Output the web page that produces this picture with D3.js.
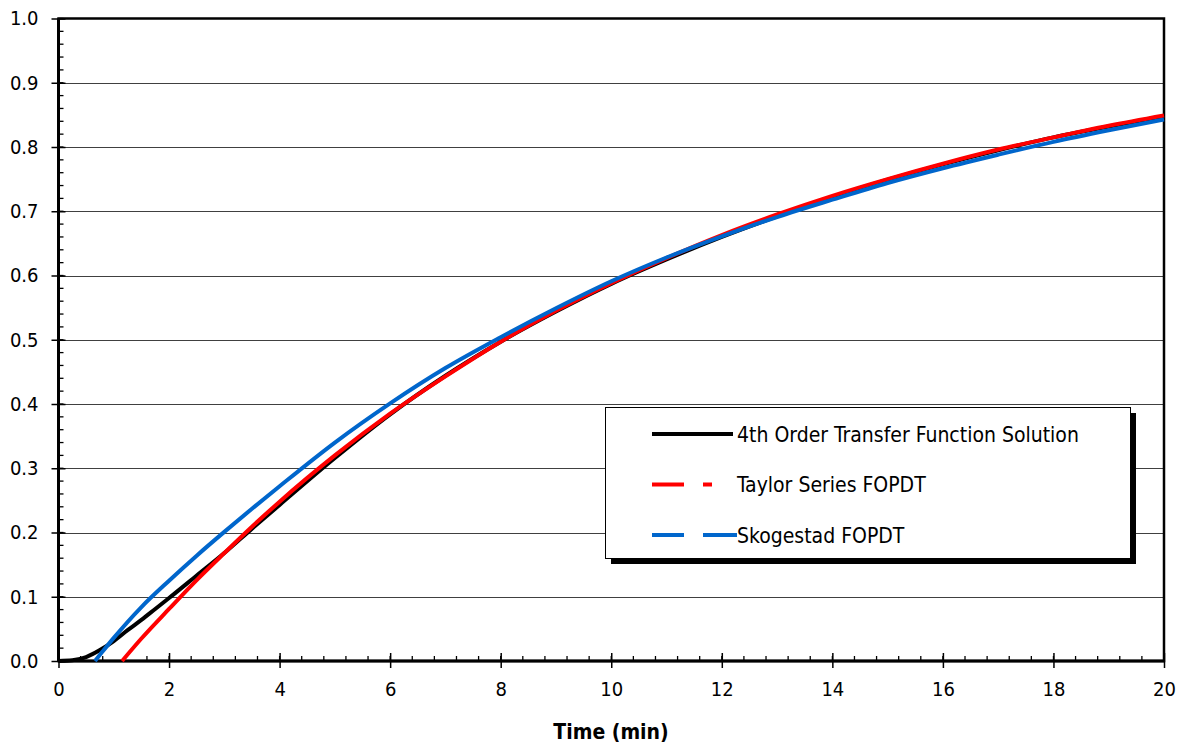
<!DOCTYPE html>
<html>
<head>
<meta charset="utf-8">
<script src="https://cdn.jsdelivr.net/npm/d3@7"></script>
<style>
  body { margin: 0; background: #fff; }
  svg { display: block; font-family: "DejaVu Sans Condensed", "DejaVu Sans", sans-serif; }
</style>
</head>
<body>
<svg id="chart" width="1182" height="744"></svg>
<script>
// values
var timeBlack = [0, 0.25, 0.5, 0.75, 1, 1.25, 1.5, 1.75, 2, 2.5, 3, 3.5, 4, 5, 6, 7, 8, 9, 10, 11, 12, 13, 14, 15, 16, 17, 18, 19, 20]
var orderFour = [0, 0.001, 0.006, 0.017, 0.031, 0.048, 0.064, 0.081, 0.098, 0.133, 0.168, 0.206, 0.243, 0.316, 0.384, 0.444, 0.497, 0.544, 0.587, 0.625, 0.660, 0.692, 0.722, 0.749, 0.773, 0.795, 0.815, 0.832, 0.848]

var timeTaylor = [1.15, 1.5, 2, 2.5, 3, 3.5, 4, 5, 6, 7, 8, 9, 10, 11, 12, 13, 14, 15, 16, 17, 18, 19, 20]
var taylor = [0, 0.035, 0.081, 0.126, 0.168, 0.209, 0.248, 0.320, 0.385, 0.443, 0.497, 0.545, 0.588, 0.627, 0.663, 0.695, 0.724, 0.750, 0.774, 0.796, 0.815, 0.833, 0.849]

var timeSkog = [0.66, 0.8, 1, 1.5, 2, 2.5, 3, 3.5, 4, 5, 6, 7, 8, 9, 10, 11, 12, 13, 14, 15, 16, 17, 18, 19, 20]
var skogestad = [0, 0.015, 0.036, 0.084, 0.125, 0.164, 0.201, 0.237, 0.272, 0.340, 0.401, 0.456, 0.504, 0.549, 0.591, 0.628, 0.661, 0.691, 0.718, 0.744, 0.767, 0.788, 0.808, 0.826, 0.843]

var seriesNames = ["4th Order Transfer Function Solution", "Taylor Series FOPDT", "Skogestad FOPDT"]
var seriesColors = ["#000000", "#ff0000", "#0066cc"]
var xTicks = [0, 2, 4, 6, 8, 10, 12, 14, 16, 18, 20]
var yTicks = [0, 0.1, 0.2, 0.3, 0.4, 0.5, 0.6, 0.7, 0.8, 0.9, 1.0]

var plotL = 58.5, plotT = 18.5, plotR = 1164, plotB = 661;

var svg = d3.select("#chart");

var x = d3.scaleLinear().domain([0, 20]).range([plotL, plotR]);
var y = d3.scaleLinear().domain([0, 1]).range([plotB, plotT]);

// grid
svg.append("g")
    .selectAll("line")
    .data(yTicks.slice(1, -1))
    .enter().append("line")
    .attr("x1", plotL).attr("x2", plotR)
    .attr("y1", d => Math.round(y(d)) + 0.5)
    .attr("y2", d => Math.round(y(d)) + 0.5)
    .attr("stroke", "#404040")
    .attr("stroke-width", 1);

// minor ticks
var minorY = d3.range(0, 1.0001, 0.02);
svg.append("g")
    .selectAll("line")
    .data(minorY)
    .enter().append("line")
    .attr("x1", plotL).attr("x2", plotL + 5)
    .attr("y1", d => y(d)).attr("y2", d => y(d))
    .attr("stroke", "#000").attr("stroke-width", 1.3);

var minorX = d3.range(0, 20.001, 0.4);
svg.append("g")
    .selectAll("line")
    .data(minorX)
    .enter().append("line")
    .attr("x1", d => x(d)).attr("x2", d => x(d))
    .attr("y1", plotB).attr("y2", plotB - 5)
    .attr("stroke", "#000").attr("stroke-width", 1.3);

// axes with d3
var yAxis = d3.axisLeft(y)
    .tickValues(yTicks)
    .tickFormat(d3.format(".1f"))
    .tickSizeInner(7)
    .tickSizeOuter(0)
    .tickPadding(13);
var gy = svg.append("g")
    .attr("transform", "translate(" + plotL + ",0)")
    .call(yAxis);
gy.select(".domain").remove();
gy.selectAll(".tick line").attr("x2", 7).attr("x1", -7).attr("stroke-width", 1.5);
gy.selectAll(".tick text")
    .attr("font-size", 20)
    .attr("font-family", "DejaVu Sans Condensed, DejaVu Sans, sans-serif")
    .attr("fill", "#000");

var xAxis = d3.axisBottom(x)
    .tickValues(xTicks)
    .tickFormat(d3.format("d"))
    .tickSizeInner(7)
    .tickSizeOuter(0)
    .tickPadding(14);
var gx = svg.append("g")
    .attr("transform", "translate(0," + plotB + ")")
    .call(xAxis);
gx.select(".domain").remove();
gx.selectAll(".tick line").attr("y1", -8).attr("y2", 7).attr("stroke-width", 1.5);
gx.selectAll(".tick text")
    .attr("font-size", 20)
    .attr("font-family", "DejaVu Sans Condensed, DejaVu Sans, sans-serif")
    .attr("fill", "#000");

// frame
svg.append("path")
    .attr("d", "M" + plotL + "," + plotB + "V" + plotT + "H" + plotR + "V" + plotB + "Z")
    .attr("fill", "none")
    .attr("stroke", "#000")
    .attr("stroke-width", 2.5);
svg.append("line")
    .attr("x1", plotL).attr("x2", plotR)
    .attr("y1", plotB).attr("y2", plotB)
    .attr("stroke", "#000").attr("stroke-width", 3);
svg.append("line")
    .attr("x1", plotL).attr("x2", plotL)
    .attr("y1", plotT).attr("y2", plotB)
    .attr("stroke", "#000").attr("stroke-width", 3);

// curves
var line = d3.line()
    .x(d => x(d[0]))
    .y(d => y(d[1]))
    .curve(d3.curveMonotoneX);

var curves = [
    d3.zip(timeBlack, orderFour),
    d3.zip(timeTaylor, taylor),
    d3.zip(timeSkog, skogestad)
];
curves.forEach((c, i) => {
    svg.append("path")
        .datum(c)
        .attr("d", line)
        .attr("fill", "none")
        .attr("stroke", seriesColors[i])
        .attr("stroke-width", 4)
        .attr("stroke-linejoin", "round");
});

// legend
var lg = svg.append("g");
lg.append("rect")
    .attr("x", 611).attr("y", 413).attr("width", 525).attr("height", 151)
    .attr("fill", "#000");
lg.append("rect")
    .attr("x", 605.5).attr("y", 407.5).attr("width", 525).attr("height", 151)
    .attr("fill", "#fff").attr("stroke", "#000").attr("stroke-width", 1);

var dashes = [null, "32,19,9,100", "32,19,100"];
var lineEnds = [733, 712, 737];
seriesNames.forEach((name, i) => {
    var ly = 434 + i * 50.5;
    lg.append("line")
        .attr("x1", 652).attr("x2", lineEnds[i])
        .attr("y1", ly).attr("y2", ly)
        .attr("stroke", seriesColors[i])
        .attr("stroke-width", 4)
        .attr("stroke-dasharray", dashes[i]);
    lg.append("text")
        .attr("x", 737).attr("y", ly + 7.5)
        .attr("font-size", 21)
        .text(name);
});

// axis title
svg.append("text")
    .attr("x", 611).attr("y", 739)
    .attr("text-anchor", "middle")
    .attr("font-size", 21)
    .attr("font-weight", "bold")
    .text("Time (min)");
</script>
</body>
</html>
